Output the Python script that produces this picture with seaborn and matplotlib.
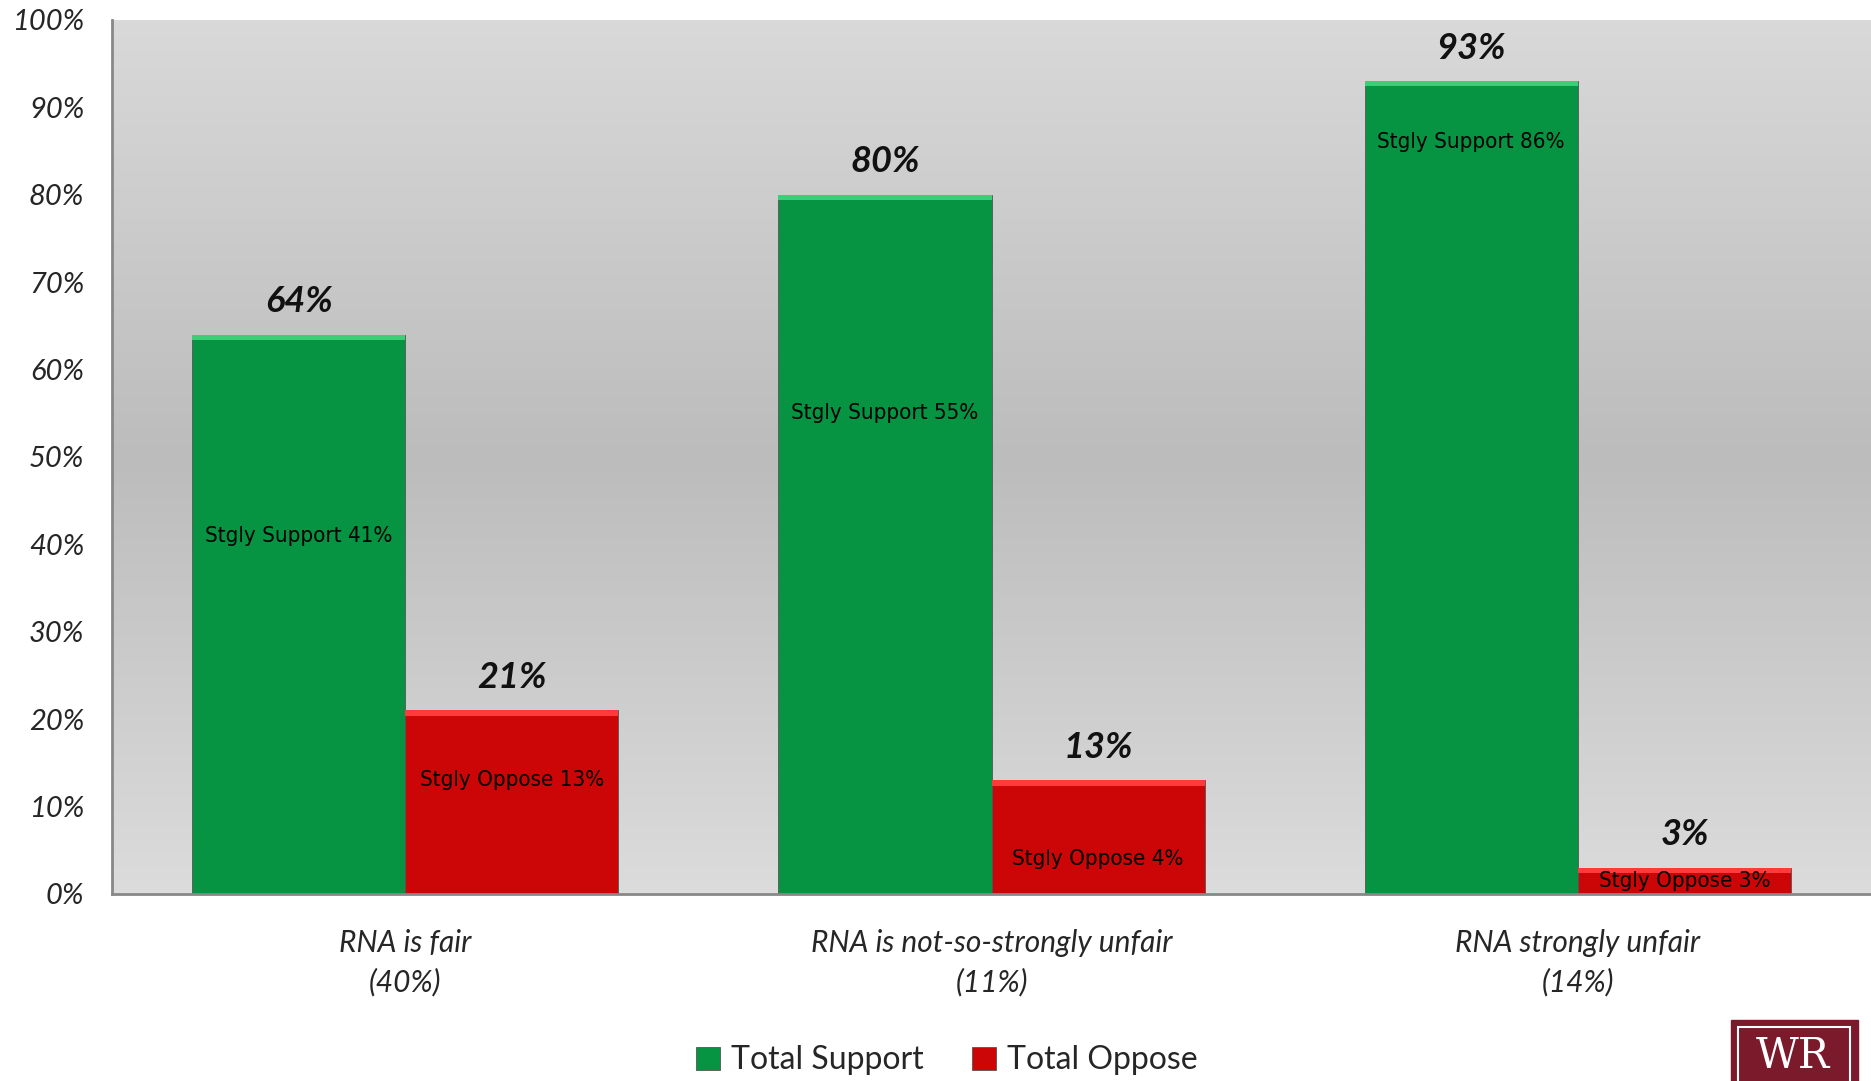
import matplotlib
matplotlib.use("Agg")
import matplotlib.pyplot as plt
import seaborn as sns
import numpy as np
import pandas as pd
from matplotlib.colors import LinearSegmentedColormap
from matplotlib.patches import Rectangle

# data
categories = ["RNA is fair\n(40%)", "RNA is not-so-strongly unfair\n(11%)", "RNA strongly unfair\n(14%)"]
series = ["Total Support", "Total Oppose"]
total_support = [64, 80, 93]
total_oppose = [21, 13, 3]
strong_support = [41, 55, 86]
strong_oppose = [13, 4, 3]
y_ticks = [0, 10, 20, 30, 40, 50, 60, 70, 80, 90, 100]

df = pd.DataFrame({
    "category": categories * 2,
    "series": [series[0]] * 3 + [series[1]] * 3,
    "value": total_support + total_oppose,
})

sns.set_style("white")
plt.rcParams["font.family"] = ["Lato", "DejaVu Sans"]

fig = plt.figure(figsize=(18.71, 10.81), dpi=100)
ax = fig.add_axes([0.0599, 0.173, 0.9401, 0.8085])

# background gradient (light - darker middle - light)
bg = LinearSegmentedColormap.from_list("bg", ["#dcdcdc", "#bcbcbc", "#d9d9d9"])
grad = np.linspace(0, 1, 256).reshape(-1, 1)
ax.imshow(grad, cmap=bg, aspect="auto", extent=[0, 1, 0, 1],
          transform=ax.transAxes, zorder=0, origin="lower")

palette = {"Total Support": "#069442", "Total Oppose": "#cc0606"}
sns.barplot(data=df, x="category", y="value", hue="series", hue_order=series,
            order=categories, palette=palette, width=0.727, gap=0,
            saturation=1, edgecolor="#555555", linewidth=0.6, ax=ax, zorder=2)

ax.set_xlim(-0.5, 2.5)
ax.set_ylim(0, 100)
ax.set_yticks(y_ticks)
ax.set_yticklabels([f"{t}%" for t in y_ticks], fontstyle="italic", fontsize=21)
ax.tick_params(axis="y", length=0, pad=20)
ax.tick_params(axis="x", length=0, pad=25)
for lbl in ax.get_xticklabels():
    lbl.set_fontstyle("italic")
    lbl.set_fontsize(21.5)
    lbl.set_linespacing(1.45)
ax.set_xlabel("")
ax.set_ylabel("")

for s in ["top", "right"]:
    ax.spines[s].set_visible(False)
for s in ["left", "bottom"]:
    ax.spines[s].set_color("#888888")
    ax.spines[s].set_linewidth(2)
    ax.spines[s].set_zorder(5)

# bevel highlight on top of bars
for cont, light in zip(ax.containers, ["#3ccf78", "#ff3a3a"]):
    for bar in cont:
        x0, w, h = bar.get_x(), bar.get_width(), bar.get_height()
        ax.add_patch(Rectangle((x0, h - 0.6), w, 0.6, color=light, zorder=3, lw=0))

# total labels
for cont in ax.containers:
    ax.bar_label(cont, labels=[f"{v:.0f}%" for v in cont.datavalues], padding=12,
                 fontsize=26, fontweight="bold", fontstyle="italic", color="#111111")

# strongly labels inside bars
for cont, strong, name in zip(ax.containers, [strong_support, strong_oppose],
                              ["Stgly Support", "Stgly Oppose"]):
    for bar, v in zip(cont, strong):
        h = bar.get_height()
        yc = v if v < h else h / 2
        ax.text(bar.get_x() + bar.get_width() / 2, yc, f"{name} {v}%",
                ha="center", va="center", fontsize=16, family="DejaVu Sans",
                fontstretch="condensed", color="black", zorder=4)

sns.move_legend(ax, "center", bbox_to_anchor=(0.506, 0.019),
                bbox_transform=fig.transFigure, ncol=2, frameon=False,
                title=None, fontsize=23, handlelength=0.75, handleheight=0.75,
                handletextpad=0.35, columnspacing=1.5)

# logo
fig.patches.append(Rectangle((0.925, -0.01), 0.068, 0.066, transform=fig.transFigure,
                             facecolor="#7a1a2a", edgecolor="#7a1a2a", lw=1))
fig.patches.append(Rectangle((0.929, -0.01), 0.060, 0.060, transform=fig.transFigure,
                             facecolor="#7a1a2a", edgecolor="white", lw=1.5))
fig.text(0.958, 0.004, "WR", color="white", fontsize=30, family="DejaVu Serif",
         ha="center", va="bottom")

fig.savefig("out.png", dpi=100)
